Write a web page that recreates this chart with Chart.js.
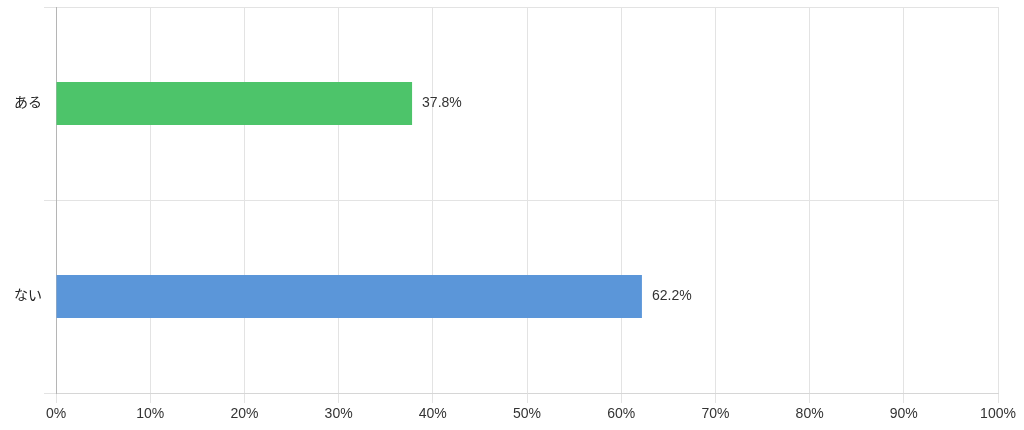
<!DOCTYPE html>
<html>
<head>
<meta charset="utf-8">
<script src="https://cdn.jsdelivr.net/npm/chart.js@4"></script>
<style>
  html, body { margin: 0; padding: 0; background: #fff; }
  #wrap { width: 1024px; height: 430px; }
</style>
</head>
<body>
<div id="wrap"><canvas id="chart"></canvas></div>
<script>
const categories = ['ある', 'ない'];
const values = [37.8, 62.2];
const barColors = ['#4dc46a', '#5b96d9'];
const xTicks = [0, 10, 20, 30, 40, 50, 60, 70, 80, 90, 100];

const FONT = "Arial, 'Liberation Sans', 'Noto Sans CJK JP', sans-serif";

// value labels at the end of each bar
const valueLabels = {
  id: 'valueLabels',
  afterDatasetsDraw(chart) {
    const ctx = chart.ctx;
    const meta = chart.getDatasetMeta(0);
    ctx.save();
    ctx.font = '14px ' + FONT;
    ctx.fillStyle = '#333';
    ctx.textBaseline = 'middle';
    meta.data.forEach((bar, i) => {
      ctx.fillText(values[i].toFixed(1) + '%', bar.x + 10, bar.y);
    });
    ctx.restore();
  }
};

new Chart(document.getElementById('chart'), {
  type: 'bar',
  data: {
    labels: categories,
    datasets: [{
      data: values,
      backgroundColor: barColors,
      borderWidth: 0,
      barPercentage: 0.28,
      categoryPercentage: 0.8
    }]
  },
  options: {
    indexAxis: 'y',
    responsive: true,
    maintainAspectRatio: false,
    animation: false,
    layout: { padding: { top: 7, right: 26, left: 0, bottom: 0 } },
    plugins: {
      legend: { display: false },
      tooltip: { enabled: false }
    },
    scales: {
      x: {
        min: 0,
        max: 100,
        afterBuildTicks(axis) {
          axis.ticks = xTicks.map(v => ({ value: v }));
        },
        afterFit(axis) { axis.height = 37; },
        grid: { color: '#e3e3e3', tickLength: 10 },
        border: { color: '#d6d6d6' },
        ticks: {
          color: '#333',
          font: { size: 14, family: FONT },
          padding: 3,
          callback: v => v + '%'
        }
      },
      y: {
        afterFit(axis) {
          axis.width = 56;
          axis.paddingTop = 0;
          axis.paddingBottom = 0;
        },
        grid: { color: '#e3e3e3', tickLength: 12 },
        border: { color: '#b5b5b5' },
        ticks: {
          color: '#222',
          font: { size: 14, family: FONT },
          padding: 2
        }
      }
    }
  },
  plugins: [valueLabels]
});
</script>
</body>
</html>
